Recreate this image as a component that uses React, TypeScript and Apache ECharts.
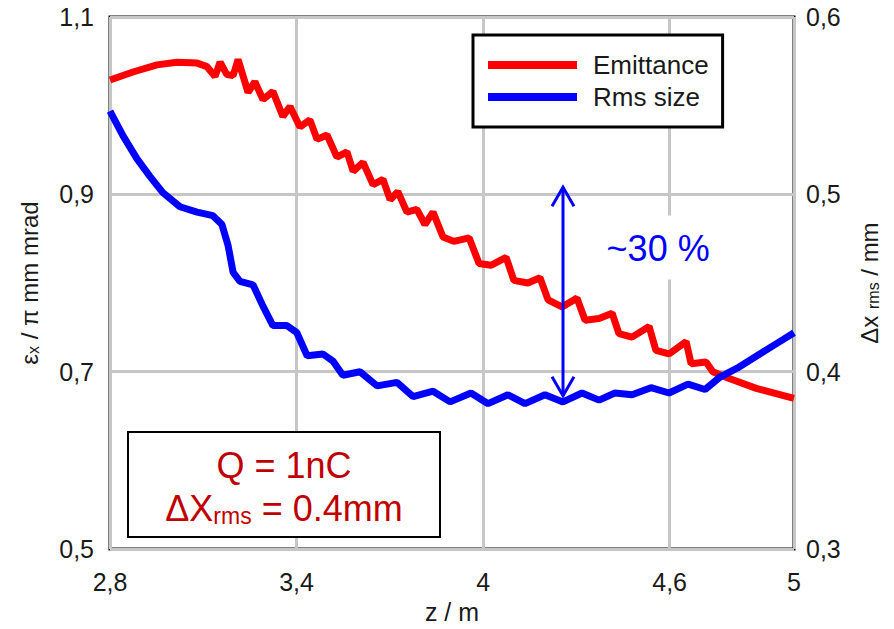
import React, { useEffect, useRef } from 'react';
import * as echarts from 'echarts';

const FONT = '"Liberation Sans", Arial, Helvetica, sans-serif';

// x positions (z / m) and emittance (pi mm mrad)
const zEmit = [2.80, 2.874, 2.951, 3.015, 3.080, 3.112, 3.138, 3.154, 3.176, 3.196,
  3.212, 3.244, 3.266, 3.292, 3.324, 3.356, 3.379, 3.411, 3.443, 3.466,
  3.498, 3.530, 3.562, 3.582, 3.614, 3.646, 3.678, 3.701, 3.726, 3.755,
  3.787, 3.813, 3.839, 3.871, 3.906, 3.955, 3.987, 4.025, 4.074, 4.099,
  4.144, 4.183, 4.209, 4.254, 4.302, 4.328, 4.373, 4.415, 4.437, 4.479,
  4.534, 4.556, 4.598, 4.653, 4.669, 4.717, 4.739, 4.794, 4.881, 5.0];
const emittance = [1.029, 1.038, 1.046, 1.049, 1.048, 1.044, 1.033, 1.049, 1.035, 1.034,
  1.052, 1.015, 1.027, 1.007, 1.016, 0.988, 0.999, 0.976, 0.984, 0.962,
  0.967, 0.942, 0.948, 0.926, 0.936, 0.911, 0.917, 0.894, 0.903, 0.880,
  0.883, 0.866, 0.880, 0.852, 0.847, 0.851, 0.822, 0.820, 0.829, 0.803,
  0.800, 0.806, 0.781, 0.773, 0.783, 0.758, 0.760, 0.766, 0.743, 0.739,
  0.751, 0.724, 0.720, 0.734, 0.709, 0.711, 0.700, 0.692, 0.681, 0.670];

// x positions (z / m) and rms size (mm)
const zRms = [2.80, 2.842, 2.887, 2.929, 2.970, 3.025, 3.080, 3.131, 3.160, 3.180,
  3.196, 3.218, 3.260, 3.292, 3.324, 3.369, 3.401, 3.434, 3.485, 3.517,
  3.549, 3.604, 3.659, 3.723, 3.775, 3.839, 3.894, 3.961, 4.016, 4.080,
  4.135, 4.199, 4.257, 4.318, 4.373, 4.424, 4.479, 4.540, 4.598, 4.659,
  4.714, 4.762, 4.817, 4.881, 4.945, 5.0];
const rmsSize = [0.547, 0.533, 0.520, 0.510, 0.501, 0.493, 0.490, 0.488, 0.483, 0.471,
  0.456, 0.451, 0.449, 0.437, 0.426, 0.426, 0.422, 0.409, 0.410, 0.406,
  0.398, 0.400, 0.392, 0.394, 0.386, 0.389, 0.383, 0.388, 0.382, 0.387,
  0.382, 0.387, 0.383, 0.388, 0.384, 0.388, 0.387, 0.391, 0.388, 0.393,
  0.390, 0.397, 0.402, 0.409, 0.416, 0.422];

const xTicks = [2.8, 3.4, 4, 4.6, 5];
const yLeftTicks = [0.5, 0.7, 0.9, 1.1];
const yRightTicks = [0.3, 0.4, 0.5, 0.6];

// annotation: arrow spanning from emittance-ish level down to rms curve
const arrowZ = 4.257;
const arrowTop = 0.908;
const arrowBottom = 0.673;
const percentLabel = '~30 %';
const percentPos = [4.563, 0.839];

const fmt = (v: number) => String(Math.round(v * 100) / 100).replace('.', ',');

export default function App() {
  const ref = useRef<HTMLDivElement>(null);
  useEffect(() => {
    const chart = echarts.init(ref.current!, null, { renderer: 'svg' });
    const labelColor = '#1a1a1a';
    chart.setOption({
      animation: false,
      backgroundColor: '#ffffff',
      grid: {
        left: 110, right: 100, top: 17, bottom: 78,
        show: true, borderColor: '#000', borderWidth: 3, backgroundColor: 'transparent',
      },
      legend: {
        left: 473, top: 35,
        orient: 'vertical',
        icon: 'rect',
        itemWidth: 89, itemHeight: 8, itemGap: 6,
        padding: [17, 14, 17, 15],
        backgroundColor: '#fff',
        borderColor: '#000', borderWidth: 3,
        textStyle: { fontFamily: FONT, fontSize: 26, color: labelColor, lineHeight: 26, padding: [0, 0, 0, 11] },
        data: ['Emittance', 'Rms size'],
      },
      xAxis: {
        type: 'value', min: 2.8, max: 5,
        name: 'z / m', nameLocation: 'middle', nameGap: 44,
        nameTextStyle: { fontFamily: FONT, fontSize: 25, color: labelColor },
        axisLine: { show: false },
        axisTick: { show: false, customValues: xTicks },
        axisLabel: { customValues: xTicks, formatter: fmt, fontFamily: FONT, fontSize: 25, color: labelColor, margin: 20 },
        splitLine: { show: true, lineStyle: { color: '#c6c6c6', width: 3 } },
      },
      yAxis: [
        {
          type: 'value', min: 0.5, max: 1.1, position: 'left',
          name: '{a|ε}{s|x}{a| / π mm mrad}', nameLocation: 'middle', nameGap: 69, nameRotate: 90,
          nameTextStyle: {
            fontFamily: FONT, fontSize: 24, color: labelColor,
            rich: {
              a: { fontFamily: FONT, fontSize: 24, color: labelColor },
              s: { fontFamily: FONT, fontSize: 16, color: labelColor, padding: [8, 0, 0, 0] },
            },
          },
          axisLine: { show: false },
          axisTick: { show: false, customValues: yLeftTicks },
          axisLabel: { customValues: yLeftTicks, formatter: fmt, fontFamily: FONT, fontSize: 25, color: labelColor, margin: 16 },
          splitLine: { show: true, lineStyle: { color: '#c6c6c6', width: 3 } },
        },
        {
          type: 'value', min: 0.3, max: 0.6, position: 'right',
          name: '{a|Δx }{s|rms}{a| / mm}', nameLocation: 'middle', nameGap: 63, nameRotate: 90,
          nameTextStyle: {
            fontFamily: FONT, fontSize: 24, color: labelColor,
            rich: {
              a: { fontFamily: FONT, fontSize: 24, color: labelColor },
              s: { fontFamily: FONT, fontSize: 16, color: labelColor, padding: [8, 0, 0, 0] },
            },
          },
          axisLine: { show: false },
          axisTick: { show: false, customValues: yRightTicks },
          axisLabel: { customValues: yRightTicks, formatter: fmt, fontFamily: FONT, fontSize: 25, color: labelColor, margin: 12 },
          splitLine: { show: false },
        },
      ],
      series: [
        {
          name: 'Emittance', type: 'line', yAxisIndex: 0, showSymbol: false, symbol: 'none',
          lineStyle: { color: '#ff0000', width: 7 }, itemStyle: { color: '#ff0000' },
          data: zEmit.map((z, i) => [z, emittance[i]]), z: 3,
        },
        {
          name: 'Rms size', type: 'line', yAxisIndex: 1, showSymbol: false, symbol: 'none',
          lineStyle: { color: '#0000ff', width: 7 }, itemStyle: { color: '#0000ff' },
          data: zRms.map((z, i) => [z, rmsSize[i]]), z: 4,
        },
      ],
    });

    const pTop = chart.convertToPixel({ xAxisIndex: 0, yAxisIndex: 0 }, [arrowZ, arrowTop]) as number[];
    const pBot = chart.convertToPixel({ xAxisIndex: 0, yAxisIndex: 0 }, [arrowZ, arrowBottom]) as number[];
    const pTxt = chart.convertToPixel({ xAxisIndex: 0, yAxisIndex: 0 }, percentPos) as number[];
    const blue = '#0000ff';
    const red = '#c00000';
    chart.setOption({
      graphic: [
        { type: 'rect', z: 10, shape: { x: pTxt[0] - 59, y: pTxt[1] - 33, width: 118, height: 64 }, style: { fill: '#fff' } },
        { type: 'text', z: 11, x: pTxt[0], y: pTxt[1], style: { text: percentLabel, fill: blue, font: `36px ${FONT}`, align: 'center', verticalAlign: 'middle' } },
        { type: 'line', z: 11, shape: { x1: pTop[0], y1: pTop[1], x2: pBot[0], y2: pBot[1] }, style: { stroke: blue, lineWidth: 3 } },
        { type: 'polyline', z: 11, shape: { points: [[pTop[0] - 11, pTop[1] + 19], [pTop[0], pTop[1]], [pTop[0] + 11, pTop[1] + 19]] }, style: { stroke: blue, lineWidth: 3, fill: 'none' } },
        { type: 'polyline', z: 11, shape: { points: [[pBot[0] - 11, pBot[1] - 19], [pBot[0], pBot[1]], [pBot[0] + 11, pBot[1] - 19]] }, style: { stroke: blue, lineWidth: 3, fill: 'none' } },
        { type: 'rect', z: 10, shape: { x: 128, y: 432, width: 312, height: 105 }, style: { fill: '#fff', stroke: '#000', lineWidth: 2 } },
        { type: 'text', z: 11, x: 284, y: 465, style: { text: 'Q = 1nC', fill: red, font: `36px ${FONT}`, align: 'center', verticalAlign: 'middle' } },
        {
          type: 'text', z: 11, x: 284, y: 508,
          style: {
            text: '{m|ΔX}{s|rms}{m| = 0.4mm}', align: 'center', verticalAlign: 'middle',
            rich: {
              m: { fill: red, fontFamily: FONT, fontSize: 36, color: red },
              s: { fill: red, fontFamily: FONT, fontSize: 23, color: red, padding: [15, 0, 0, 0] },
            },
          },
        },
      ],
    });
    return () => chart.dispose();
  }, []);
  return <div ref={ref} style={{ position: 'absolute', left: 0, top: 0, width: 894, height: 629 }} />;
}
